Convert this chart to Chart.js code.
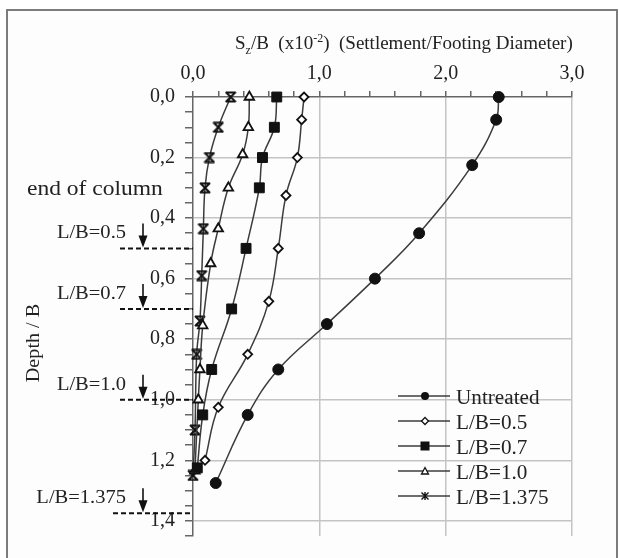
<!DOCTYPE html>
<html>
<head>
<meta charset="utf-8">
<script src="https://cdn.jsdelivr.net/npm/chart.js@4.4.0/dist/chart.umd.min.js"></script>
<style>
  html, body { margin: 0; padding: 0; background: #fff; }
  #wrap { position: relative; width: 619px; height: 558px; overflow: hidden;
          font-family: "Liberation Serif", "Times New Roman", serif; color: #222; }
  #frame { position: absolute; left: 6px; top: 9px; width: 608px; height: 560px;
           border: 2px solid #7c7c7c; background: #fdfdfd; }
  canvas { position: absolute; left: 0; top: 0; }
  .txt { position: absolute; white-space: nowrap; line-height: 1; }
  #title { left: 235px; top: 33px; font-size: 19px; transform: scaleX(1.0); transform-origin: left top; }
  #title sub, #title sup { font-size: 12px; line-height: 0; }
  #ytitle { left: 33px; top: 343px; font-size: 18px; transform: translate(-50%, -50%) rotate(-90deg) scaleX(1.12); }
  #endcol { left: 27px; top: 178px; font-size: 21px; transform: scaleX(1.12); transform-origin: left top; }
  .lb { font-size: 19px; transform: scaleX(1.08); transform-origin: right top; }
  #legend { position: absolute; left: 398px; top: 384px; }
  .row { position: relative; height: 25px; }
  .row svg { position: absolute; left: 0; top: 0; }
  .row span { position: absolute; left: 58px; top: 3px; font-size: 20px; line-height: 1;
              white-space: nowrap; transform: scaleX(1.06); transform-origin: left top; }
</style>
</head>
<body>
<div id="wrap">
  <div id="frame"></div>
  <canvas id="chart" width="619" height="558"></canvas>
  <div class="txt" id="title">S<sub>z</sub>/B&nbsp; (x10<sup>-2</sup>)&nbsp; (Settlement/Footing Diameter)</div>
  <div class="txt" id="ytitle">Depth / B</div>
  <div class="txt" id="endcol">end of column</div>
  <div id="legend"></div>
</div>
<script>
// settlement S/B (x10^-2) and depth/B for each test
const untreatedX     = [2.42, 2.40, 2.21, 1.79, 1.44, 1.06, 0.675, 0.433, 0.18];
const untreatedDepth = [0, 0.075, 0.225, 0.45, 0.60, 0.75, 0.90, 1.05, 1.275];

const lb05X     = [0.879, 0.86, 0.826, 0.736, 0.675, 0.60, 0.433, 0.20, 0.095];
const lb05Depth = [0, 0.075, 0.20, 0.325, 0.50, 0.675, 0.85, 1.025, 1.20];

const lb07X     = [0.663, 0.644, 0.55, 0.525, 0.42, 0.306, 0.148, 0.077, 0.034];
const lb07Depth = [0, 0.10, 0.20, 0.30, 0.50, 0.70, 0.90, 1.05, 1.225];

const lb10X     = [0.446, 0.438, 0.393, 0.28, 0.20, 0.14, 0.077, 0.055, 0.042, 0.015];
const lb10Depth = [0, 0.10, 0.19, 0.30, 0.435, 0.55, 0.755, 0.90, 1.00, 1.235];

const lb1375X     = [0.298, 0.20, 0.13, 0.095, 0.082, 0.069, 0.055, 0.029, 0.016, 0.0];
const lb1375Depth = [0, 0.10, 0.20, 0.30, 0.435, 0.59, 0.74, 0.85, 1.10, 1.25];

const seriesNames = ["Untreated", "L/B=0.5", "L/B=0.7", "L/B=1.0", "L/B=1.375"];

// column ends (depth/B) marked at the left
const endDepths = [0.5, 0.7, 1.0, 1.375];
const endLabels = ["L/B=0.5", "L/B=0.7", "L/B=1.0", "L/B=1.375"];

const xTickValues = [0, 1, 2, 3];
const yTickValues = [0, 0.2, 0.4, 0.6, 0.8, 1.0, 1.2, 1.4];

function pts(xs, ys) {
  return xs.map((x, i) => ({x: x, y: ys[i]}));
}

function isTick(v, list) {
  return list.some(t => Math.abs(t - v) < 1e-6);
}

function fmt(v) {
  return v.toFixed(1).replace(".", ",");
}

// hourglass-like star marker
function starMarker(r) {
  const c = document.createElement("canvas");
  c.width = 2 * r + 2;
  c.height = 2 * r + 2;
  const g = c.getContext("2d");
  g.strokeStyle = "#111";
  g.lineWidth = 2;
  g.beginPath();
  g.moveTo(1, 1); g.lineTo(2 * r + 1, 2 * r + 1);
  g.moveTo(2 * r + 1, 1); g.lineTo(1, 2 * r + 1);
  g.moveTo(1, 1.5); g.lineTo(2 * r + 1, 1.5);
  g.moveTo(1, 2 * r + 0.5); g.lineTo(2 * r + 1, 2 * r + 0.5);
  g.stroke();
  return c;
}

const lineColor = "#3c3c3c";
const styles = [
  {pointStyle: "circle",  pointRadius: 5.5, pointBackgroundColor: "#111", pointBorderColor: "#111", pointBorderWidth: 1},
  {pointStyle: "rectRot", pointRadius: 4.5, pointBackgroundColor: "#fff", pointBorderColor: "#111", pointBorderWidth: 1.8},
  {pointStyle: "rect",    pointRadius: 7,   pointBackgroundColor: "#111", pointBorderColor: "#111", pointBorderWidth: 1},
  {pointStyle: "triangle", pointRadius: 5.5, pointBackgroundColor: "#fff", pointBorderColor: "#111", pointBorderWidth: 1.8},
  {pointStyle: starMarker(5), pointRadius: 6, pointBackgroundColor: "#111", pointBorderColor: "#111", pointBorderWidth: 1}
];

const allData = [
  pts(untreatedX, untreatedDepth),
  pts(lb05X, lb05Depth),
  pts(lb07X, lb07Depth),
  pts(lb10X, lb10Depth),
  pts(lb1375X, lb1375Depth)
];

const datasets = allData.map((d, i) => Object.assign({
  label: seriesNames[i],
  data: d,
  showLine: true,
  clip: false,
  borderColor: lineColor,
  borderWidth: 1.5,
  tension: 0.4
}, styles[i]));

// end-of-column labels (html text)
const wrap = document.getElementById("wrap");
const endDivs = endLabels.map(t => {
  const d = document.createElement("div");
  d.className = "txt lb";
  d.textContent = t;
  wrap.appendChild(d);
  return d;
});

// dashed lines + arrows at the column ends, placed with the y scale
const columnEnds = {
  id: "columnEnds",
  afterDraw(chart) {
    const ctx = chart.ctx;
    const ys = chart.scales.y;
    const left = chart.chartArea.left;
    ctx.save();
    endDepths.forEach((d, i) => {
      const y = ys.getPixelForValue(d);
      const x0 = i === endDepths.length - 1 ? 113 : 120;
      ctx.strokeStyle = "#111";
      ctx.lineWidth = 2;
      ctx.setLineDash([5, 3]);
      ctx.beginPath();
      ctx.moveTo(x0, y);
      ctx.lineTo(left, y);
      ctx.stroke();
      ctx.setLineDash([]);
      // arrow
      const ax = 143;
      ctx.lineWidth = 1.6;
      ctx.beginPath();
      ctx.moveTo(ax, y - 25);
      ctx.lineTo(ax, y - 10);
      ctx.stroke();
      ctx.fillStyle = "#111";
      ctx.beginPath();
      ctx.moveTo(ax - 4.5, y - 13);
      ctx.lineTo(ax + 4.5, y - 13);
      ctx.lineTo(ax, y - 1);
      ctx.closePath();
      ctx.fill();
      const div = endDivs[i];
      div.style.top = (y - 26) + "px";
      div.style.left = (126 - div.offsetWidth) + "px";
    });
    ctx.restore();
  }
};

const tickFont = {family: "Liberation Serif", size: 20};

new Chart(document.getElementById("chart"), {
  type: "scatter",
  data: {datasets: datasets},
  options: {
    responsive: false,
    animation: false,
    devicePixelRatio: 1,
    layout: {padding: {left: 133, top: 62, right: 47, bottom: 13}},
    plugins: {legend: {display: false}, tooltip: {enabled: false}},
    scales: {
      x: {
        type: "linear",
        position: "top",
        min: 0,
        max: 3,
        afterFit: s => { s.height = 35; },
        ticks: {
          stepSize: 0.2,
          autoSkip: false,
          maxRotation: 0,
          padding: 5,
          color: "#222",
          font: tickFont,
          callback: v => isTick(v, xTickValues) ? fmt(v) : ""
        },
        grid: {
          color: c => (c.tick && c.tick.value > 0 && isTick(c.tick.value, xTickValues)) ? "#c4c4c4" : "rgba(0,0,0,0)",
          lineWidth: 1.5,
          tickColor: "#666",
          tickLength: 6
        },
        border: {color: "#666", width: 1.5}
      },
      y: {
        type: "linear",
        reverse: true,
        min: 0,
        max: 1.45,
        afterFit: s => { s.width = 60; },
        ticks: {
          stepSize: 0.05,
          autoSkip: false,
          padding: 10,
          color: "#222",
          font: tickFont,
          callback: v => isTick(v, yTickValues) ? fmt(v) : ""
        },
        grid: {
          color: c => (c.tick && c.tick.value > 0 && isTick(c.tick.value, yTickValues)) ? "#c4c4c4" : "rgba(0,0,0,0)",
          lineWidth: 1.5,
          tickColor: "#666",
          tickLength: 8
        },
        border: {color: "#666", width: 1.5}
      }
    }
  },
  plugins: [columnEnds]
});

// legend rows: line sample with marker, then the name
const legend = document.getElementById("legend");
const markerSvg = [
  '<circle cx="27" cy="12" r="4" fill="#111"/>',
  '<path d="M27 8.5 L30.5 12 L27 15.5 L23.5 12 Z" fill="#fff" stroke="#111" stroke-width="1.3"/>',
  '<rect x="22.5" y="7.5" width="9" height="9" fill="#111"/>',
  '<path d="M27 8.5 L30.5 15 L23.5 15 Z" fill="#fff" stroke="#111" stroke-width="1.3"/>',
  '<path d="M23.5 8.5 L30.5 15.5 M30.5 8.5 L23.5 15.5 M27 8 L27 16" stroke="#111" stroke-width="1.4"/>'
];
seriesNames.forEach((name, i) => {
  const row = document.createElement("div");
  row.className = "row";
  row.innerHTML = '<svg width="56" height="24"><line x1="0" y1="12" x2="52" y2="12" stroke="#3c3c3c" stroke-width="1.5"/>' +
    markerSvg[i] + '</svg><span>' + name + '</span>';
  legend.appendChild(row);
});
</script>
</body>
</html>
